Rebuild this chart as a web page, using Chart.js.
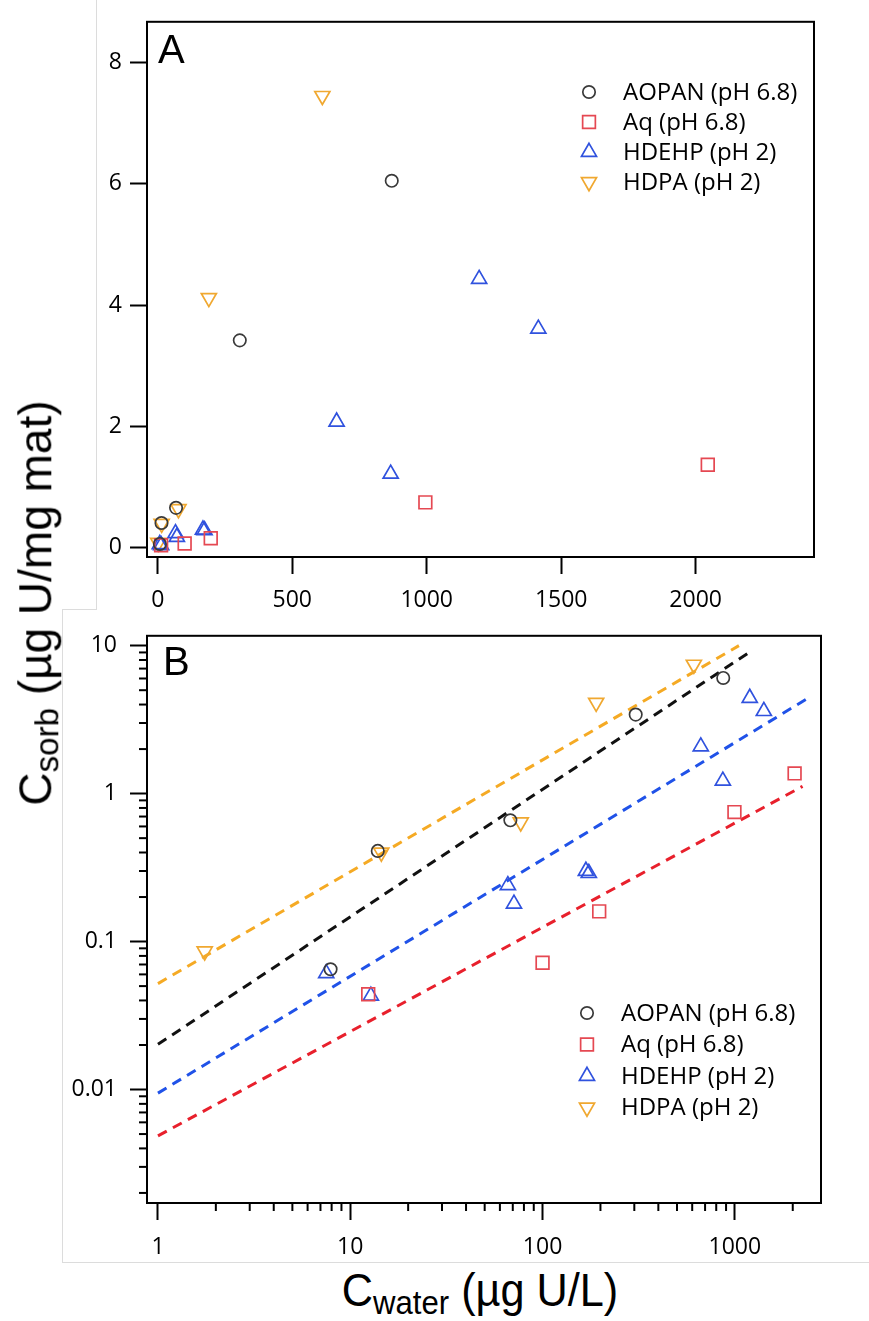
<!DOCTYPE html>
<html>
<head>
<meta charset="utf-8">
<script src="https://cdn.jsdelivr.net/npm/chart.js@4.4.1/dist/chart.umd.min.js"></script>
<style>
  html, body { margin: 0; padding: 0; background: #fff; }
  #wrap { position: relative; width: 869px; height: 1321px; background: #fff; overflow: hidden; }
  canvas { position: absolute; left: 0; }
  .edge { position: absolute; background: #dcdcdc; }
  .title {
    position: absolute; white-space: nowrap; line-height: 1;
    font-family: "Liberation Sans", Arial, sans-serif; font-size: 46px; color: #000;
  }
  .title sub { font-size: 0.72em; vertical-align: -0.22em; }
  #ytitle { left: 38px; top: 603px; transform: translate(-50%, -50%) rotate(-90deg); }
  #xtitle { left: 480px; top: 1293px; transform: translate(-50%, -50%) scale(0.94, 1); }
</style>
</head>
<body>
<div id="wrap">
  <div class="edge" style="left:96px;top:0;width:1px;height:609px"></div>
  <canvas id="chartA" width="869" height="612" style="top:0"></canvas>
  <canvas id="chartB" width="869" height="653" style="top:609px"></canvas>
  <div class="edge" style="left:62px;top:609px;width:35px;height:1px"></div>
  <div class="edge" style="left:62px;top:609px;width:1px;height:653px"></div>
  <div class="edge" style="left:62px;top:1262px;width:807px;height:1px"></div>
  <div id="ytitle" class="title">C<sub>sorb</sub> (µg U/mg mat)</div>
  <div id="xtitle" class="title">C<sub>water</sub> (µg U/L)</div>
</div>
<script>
// C_water (µg U/L), C_sorb (µg U/mg mat)
const aopan = [[7.9, 0.065], [13.9, 0.41], [68, 0.66], [305, 3.42], [870, 6.05]];
const aq = [[12.4, 0.044], [100, 0.072], [197, 0.16], [995, 0.75], [2045, 1.37]];
const hdehp = [[7.5, 0.061], [12.8, 0.043], [66, 0.24], [71, 0.18], [168, 0.3], [174, 0.29],
  [665, 2.08], [866, 1.22], [1195, 4.43], [1415, 3.61]];
const hdpa = [[1.75, 0.086], [14.5, 0.4], [77, 0.64], [190, 4.12], [612, 7.45]];

// dashed fit lines in panel B (end points)
const fitAopan = [[1, 0.0202], [1240, 9.36]];
const fitAq = [[1, 0.00486], [2250, 1.12]];
const fitHdehp = [[1, 0.00945], [2470, 4.52]];
const fitHdpa = [[1, 0.052], [1050, 10.0]];

const seriesNames = ["AOPAN (pH 6.8)", "Aq (pH 6.8)", "HDEHP (pH 2)", "HDPA (pH 2)"];

// ticks
const xTicksA = [0, 500, 1000, 1500, 2000];
const yTicksA = [0, 2, 4, 6, 8];
const xDecadesB = [1, 10, 100, 1000];
const yDecadesB = [0.001, 0.01, 0.1, 1, 10];
const minorSteps = [2, 3, 4, 5, 6, 7, 8, 9];

const colors = {
  aopan: "#3a3a3a",
  aq: "rgb(229, 72, 82)",
  hdehp: "rgb(48, 82, 222)",
  hdpa: "rgb(240, 168, 48)",
};
const lineColors = {
  aopan: "#111111",
  aq: "rgb(232, 32, 44)",
  hdehp: "rgb(32, 82, 232)",
  hdpa: "rgb(245, 170, 36)",
};

const markers = [
  { style: "circle", rot: 0, r: 6.2, color: colors.aopan },
  { style: "rect", rot: 0, r: 9, color: colors.aq },
  { style: "triangle", rot: 0, r: 8.7, color: colors.hdehp },
  { style: "triangle", rot: 180, r: 8.7, color: colors.hdpa },
];

const tickFont = { family: "'Open Sans', 'DejaVu Sans', sans-serif", size: 23 };
const toXY = (arr) => arr.map(([x, y]) => ({ x, y }));

function pointSets() {
  return [aopan, aq, hdehp, hdpa].map((d, i) => ({
    label: seriesNames[i],
    data: toXY(d),
    pointStyle: markers[i].style,
    rotation: markers[i].rot,
    pointRadius: markers[i].r,
    pointHoverRadius: markers[i].r,
    borderColor: markers[i].color,
    backgroundColor: "rgba(0,0,0,0)",
    borderWidth: 1.7,
    showLine: false,
    order: 1,
  }));
}

function fitSets() {
  return [
    [fitAopan, lineColors.aopan],
    [fitAq, lineColors.aq],
    [fitHdehp, lineColors.hdehp],
    [fitHdpa, lineColors.hdpa],
  ].map(([d, c]) => ({
    type: "line",
    data: toXY(d),
    borderColor: c,
    borderWidth: 3,
    borderDash: [10, 7],
    pointRadius: 0,
    fill: false,
    order: 2,
  }));
}

function logTicks(decades, min, max) {
  const out = [];
  decades.forEach((d) => {
    if (d >= min && d <= max) out.push({ value: d, major: true });
    minorSteps.forEach((m) => {
      const v = +(d * m).toPrecision(3);
      if (v >= min && v <= max) out.push({ value: v, major: false });
    });
  });
  return out.sort((a, b) => a.value - b.value);
}

// frame, minor ticks, panel letter and legend
function decor(letter, lx, ly, leg) {
  return {
    id: "decor" + letter,
    afterDraw(chart) {
      const ctx = chart.ctx;
      const a = chart.chartArea;
      ctx.save();
      ctx.strokeStyle = "#000";
      ctx.lineWidth = 2;
      ctx.strokeRect(a.left, a.top, a.right - a.left, a.bottom - a.top);

      ["x", "y"].forEach((id) => {
        const s = chart.scales[id];
        s.ticks.forEach((t) => {
          if (t.major !== false) return;
          const p = s.getPixelForValue(t.value);
          ctx.beginPath();
          if (id === "x") {
            ctx.moveTo(p, a.bottom);
            ctx.lineTo(p, a.bottom + 8);
          } else {
            ctx.moveTo(a.left, p);
            ctx.lineTo(a.left - 8, p);
          }
          ctx.stroke();
        });
      });

      ctx.fillStyle = "#000";
      ctx.font = "40px 'Liberation Sans', Arial, sans-serif";
      ctx.textBaseline = "alphabetic";
      ctx.textAlign = "left";
      ctx.fillText(letter, lx, ly);

      ctx.font = "24px 'Open Sans', 'DejaVu Sans', sans-serif";
      ctx.textBaseline = "middle";
      markers.forEach((m, i) => {
        const y = leg.y0 + i * leg.gap;
        ctx.strokeStyle = m.color;
        ctx.fillStyle = "rgba(0,0,0,0)";
        ctx.lineWidth = 1.7;
        Chart.helpers.drawPoint(ctx, { pointStyle: m.style, rotation: m.rot, radius: m.r, borderWidth: 1.7 }, leg.x, y);
        ctx.fillStyle = "#000";
        ctx.fillText(seriesNames[i], leg.x + 34, y + 1);
      });
      ctx.restore();
    },
  };
}

const commonGrid = (ticksMajorOnly) => ({
  display: true,
  drawOnChartArea: false,
  drawTicks: true,
  tickLength: 17,
  tickWidth: 2,
  tickColor: (c) => (ticksMajorOnly && c.tick && c.tick.major === false ? "rgba(0,0,0,0)" : "#000"),
});

// Panel A: linear axes
new Chart(document.getElementById("chartA").getContext("2d"), {
  type: "scatter",
  data: { datasets: pointSets() },
  options: {
    responsive: false,
    animation: false,
    events: [],
    layout: { padding: { left: 0, top: 14, right: 55, bottom: 0 } },
    plugins: { legend: { display: false }, tooltip: { enabled: false } },
    scales: {
      x: {
        type: "linear",
        min: -40,
        max: 2440,
        afterBuildTicks: (s) => { s.ticks = xTicksA.map((v) => ({ value: v })); },
        afterFit: (s) => { s.height = 55; },
        grid: commonGrid(false),
        border: { display: true, color: "#000", width: 2 },
        ticks: {
          font: tickFont, color: "#000", padding: 13, autoSkip: false, maxRotation: 0,
          callback: (v) => String(v),
        },
      },
      y: {
        type: "linear",
        min: -0.15,
        max: 8.67,
        afterBuildTicks: (s) => { s.ticks = yTicksA.map((v) => ({ value: v })); },
        afterFit: (s) => { s.width = 147; },
        grid: commonGrid(false),
        border: { display: true, color: "#000", width: 2 },
        ticks: { font: tickFont, color: "#000", padding: 8, autoSkip: false, callback: (v) => String(v) },
      },
    },
  },
  plugins: [decor("A", 158, 63, { x: 589, y0: 92, gap: 30 })],
});

// Panel B: log-log axes with fit lines
const xMinB = 0.877, xMaxB = 2805, yMinB = 0.00171, yMaxB = 11.66;
new Chart(document.getElementById("chartB").getContext("2d"), {
  type: "scatter",
  data: { datasets: [...pointSets(), ...fitSets()] },
  options: {
    responsive: false,
    animation: false,
    events: [],
    layout: { padding: { left: 0, top: 19, right: 48, bottom: 0 } },
    plugins: { legend: { display: false }, tooltip: { enabled: false } },
    scales: {
      x: {
        type: "logarithmic",
        min: xMinB,
        max: xMaxB,
        afterBuildTicks: (s) => { s.ticks = logTicks(xDecadesB, xMinB, xMaxB); },
        afterFit: (s) => { s.height = 59; },
        grid: commonGrid(true),
        border: { display: true, color: "#000", width: 2 },
        ticks: {
          font: tickFont, color: "#000", padding: 14, autoSkip: false, maxRotation: 0,
          callback: (v) => (xDecadesB.includes(v) ? String(v) : ""),
        },
      },
      y: {
        type: "logarithmic",
        min: yMinB,
        max: yMaxB,
        afterBuildTicks: (s) => { s.ticks = logTicks(yDecadesB, yMinB, yMaxB); },
        afterFit: (s) => { s.width = 147; },
        grid: commonGrid(true),
        border: { display: true, color: "#000", width: 2 },
        ticks: {
          font: tickFont, color: "#000", padding: 13, autoSkip: false,
          callback: (v) => (yDecadesB.includes(v) ? String(v) : ""),
        },
      },
    },
  },
  plugins: [decor("B", 163, 66, { x: 587, y0: 404, gap: 31.5 })],
});
</script>
</body>
</html>
